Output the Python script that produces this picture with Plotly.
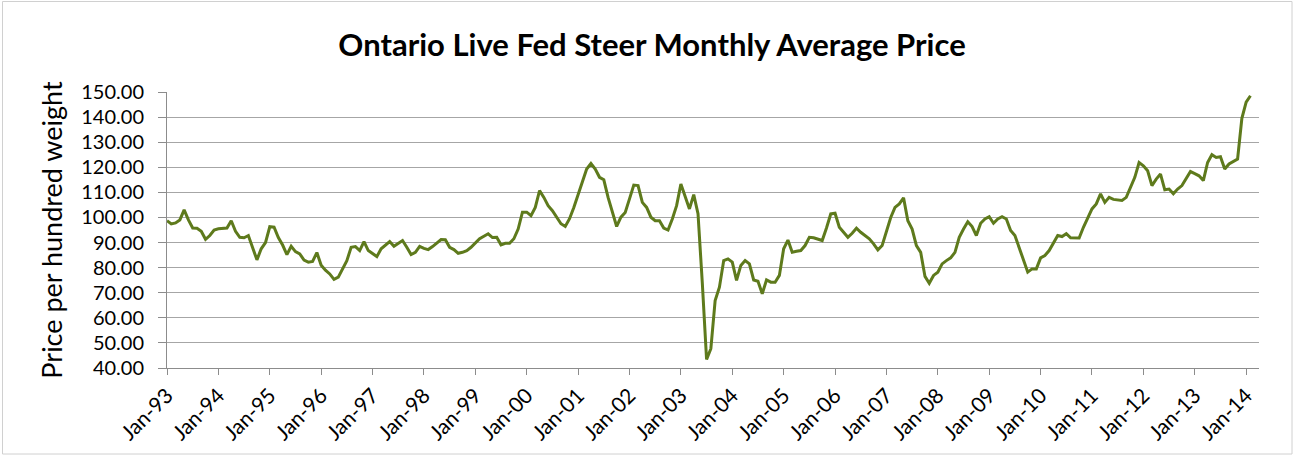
import plotly.graph_objects as go

# Monthly average prices (per hundred weight), Jan-93 .. Feb-14
p1993 = [98.7, 97.4, 97.8, 99.0, 103.0, 99.0, 95.8, 95.7, 94.5, 91.3, 92.8, 95.0]
p1994 = [95.5, 95.7, 95.8, 98.7, 94.5, 92.1, 91.9, 92.8, 87.5, 83.1, 87.5, 90.0]
p1995 = [96.3, 96.1, 92.0, 89.0, 85.2, 88.5, 86.4, 85.5, 83.0, 82.2, 82.5, 86.0]
p1996 = [81.0, 79.0, 77.5, 75.3, 76.2, 79.5, 82.8, 88.1, 88.4, 86.8, 90.4, 86.8]
p1997 = [85.7, 84.4, 87.5, 89.0, 90.4, 88.5, 89.7, 90.8, 88.1, 85.2, 86.1, 88.5]
p1998 = [87.7, 87.2, 88.4, 89.7, 91.2, 91.1, 88.1, 87.2, 85.7, 86.1, 86.8, 88.1]
p1999 = [90.0, 91.5, 92.5, 93.5, 92.0, 92.1, 89.1, 89.7, 89.7, 91.5, 95.4, 102.1]
p2000 = [102.1, 100.7, 104.0, 110.7, 108.0, 104.7, 102.7, 100.0, 97.5, 96.4, 99.5, 104.0]
p2001 = [109.4, 114.0, 119.3, 121.5, 119.3, 116.0, 115.0, 108.0, 102.0, 96.4, 100.1, 102.0]
p2002 = [107.4, 112.9, 112.7, 106.0, 104.0, 100.1, 98.7, 98.7, 95.8, 95.0, 99.4, 104.7]
p2003 = [113.3, 108.0, 103.4, 109.1, 101.5, 74.0, 43.4, 47.7, 66.9, 72.2, 82.8, 83.5]
p2004 = [82.2, 74.9, 80.9, 82.8, 81.5, 75.1, 74.6, 69.6, 75.1, 74.2, 74.2, 76.9]
p2005 = [87.5, 91.0, 86.1, 86.5, 86.8, 88.8, 92.1, 91.9, 91.5, 90.8, 95.8, 101.4]
p2006 = [101.7, 96.1, 94.1, 92.1, 93.7, 95.7, 94.1, 92.8, 91.5, 89.5, 87.1, 88.8]
p2007 = [94.1, 100.0, 104.0, 105.4, 107.8, 98.7, 95.4, 88.8, 86.1, 76.5, 73.8, 76.9]
p2008 = [78.2, 81.5, 82.8, 83.9, 86.1, 92.1, 95.4, 98.3, 96.4, 92.8, 97.7, 99.4]
p2009 = [100.3, 97.7, 99.4, 100.3, 99.4, 94.8, 92.8, 88.1, 83.5, 78.2, 79.5, 79.5]
p2010 = [83.9, 84.8, 86.8, 90.1, 92.8, 92.4, 93.5, 91.9, 92.0, 91.8, 96.1, 100.1]
p2011 = [103.4, 105.4, 109.4, 106.0, 108.0, 107.2, 107.0, 106.8, 108.0, 112.0, 116.0, 121.9]
p2012 = [120.6, 118.6, 112.7, 115.3, 117.3, 111.0, 111.3, 109.4, 111.3, 112.7, 115.3, 118.3]
p2013 = [117.5, 116.6, 114.7, 121.9, 125.0, 123.9, 124.2, 119.3, 121.3, 122.3, 123.3, 139.5]
p2014 = [146.0, 148.5]

years = list(range(1993, 2015))
tick_labels = ["Jan-%02d" % (y % 100) for y in years]
y_ticks = [40, 50, 60, 70, 80, 90, 100, 110, 120, 130, 140, 150]

price = (p1993 + p1994 + p1995 + p1996 + p1997 + p1998 + p1999 + p2000 + p2001
         + p2002 + p2003 + p2004 + p2005 + p2006 + p2007 + p2008 + p2009 + p2010
         + p2011 + p2012 + p2013 + p2014)
month_index = list(range(len(price)))
tick_vals = [12 * i for i in range(len(years))]

FONT = "Lato, Calibri, Arial, sans-serif"

fig = go.Figure()
fig.add_trace(go.Scatter(
    x=month_index, y=price, mode="lines",
    line=dict(color="#5e7a1c", width=3),
    hoverinfo="y", showlegend=False,
))

W, H = 1295, 456
ml, mr, mt, mb = 167, 36, 92, 88
pw, ph = W - ml - mr, H - mt - mb

def px_x(p):
    return (p - ml) / pw

def px_y(p):
    return (H - mb - p) / ph

fig.update_layout(
    width=W, height=H,
    margin=dict(l=ml, r=mr, t=mt, b=mb, autoexpand=False),
    paper_bgcolor="white", plot_bgcolor="white",
    font=dict(family=FONT, color="#000000"),
    title=dict(
        text="<b>Ontario Live Fed Steer Monthly Average Price</b>",
        x=0.5035, xanchor="center", y=1 - 45 / H, yanchor="middle",
        font=dict(family=FONT, size=31, color="#000000"),
    ),
    xaxis=dict(
        range=[0, 255], tickmode="array", tickvals=tick_vals, ticktext=tick_labels,
        tickangle=-45, tickfont=dict(size=21, family=FONT),
        showgrid=False, zeroline=False,
        showline=True, linecolor="#8c8c8c", linewidth=1,
        ticks="outside", ticklen=6, tickcolor="#8c8c8c",
    ),
    yaxis=dict(
        range=[40, 150], tickmode="array", tickvals=y_ticks,
        ticktext=["%.2f" % v for v in y_ticks],
        tickfont=dict(size=20, family=FONT),
        showgrid=True, gridcolor="#a6a6a6", gridwidth=1,
        zeroline=False, showline=True, linecolor="#8c8c8c", linewidth=1,
        ticks="outside", ticklen=8, tickcolor="#8c8c8c", ticklabelstandoff=10,
        title=dict(text="Price per hundred weight", standoff=10,
                   font=dict(size=27, family=FONT)),
        automargin=False,
    ),
    shapes=[dict(
        type="rect", xref="paper", yref="paper",
        x0=px_x(2.5), x1=px_x(1292), y0=px_y(454), y1=px_y(1.5),
        line=dict(color="#d0d0d0", width=1), fillcolor="rgba(0,0,0,0)", layer="below",
    )],
)

fig.write_html(
    "out.html",
    config={"displayModeBar": False},
    post_script="document.body.style.margin='0';document.body.style.padding='0';"
                "document.body.style.overflow='hidden';",
)
